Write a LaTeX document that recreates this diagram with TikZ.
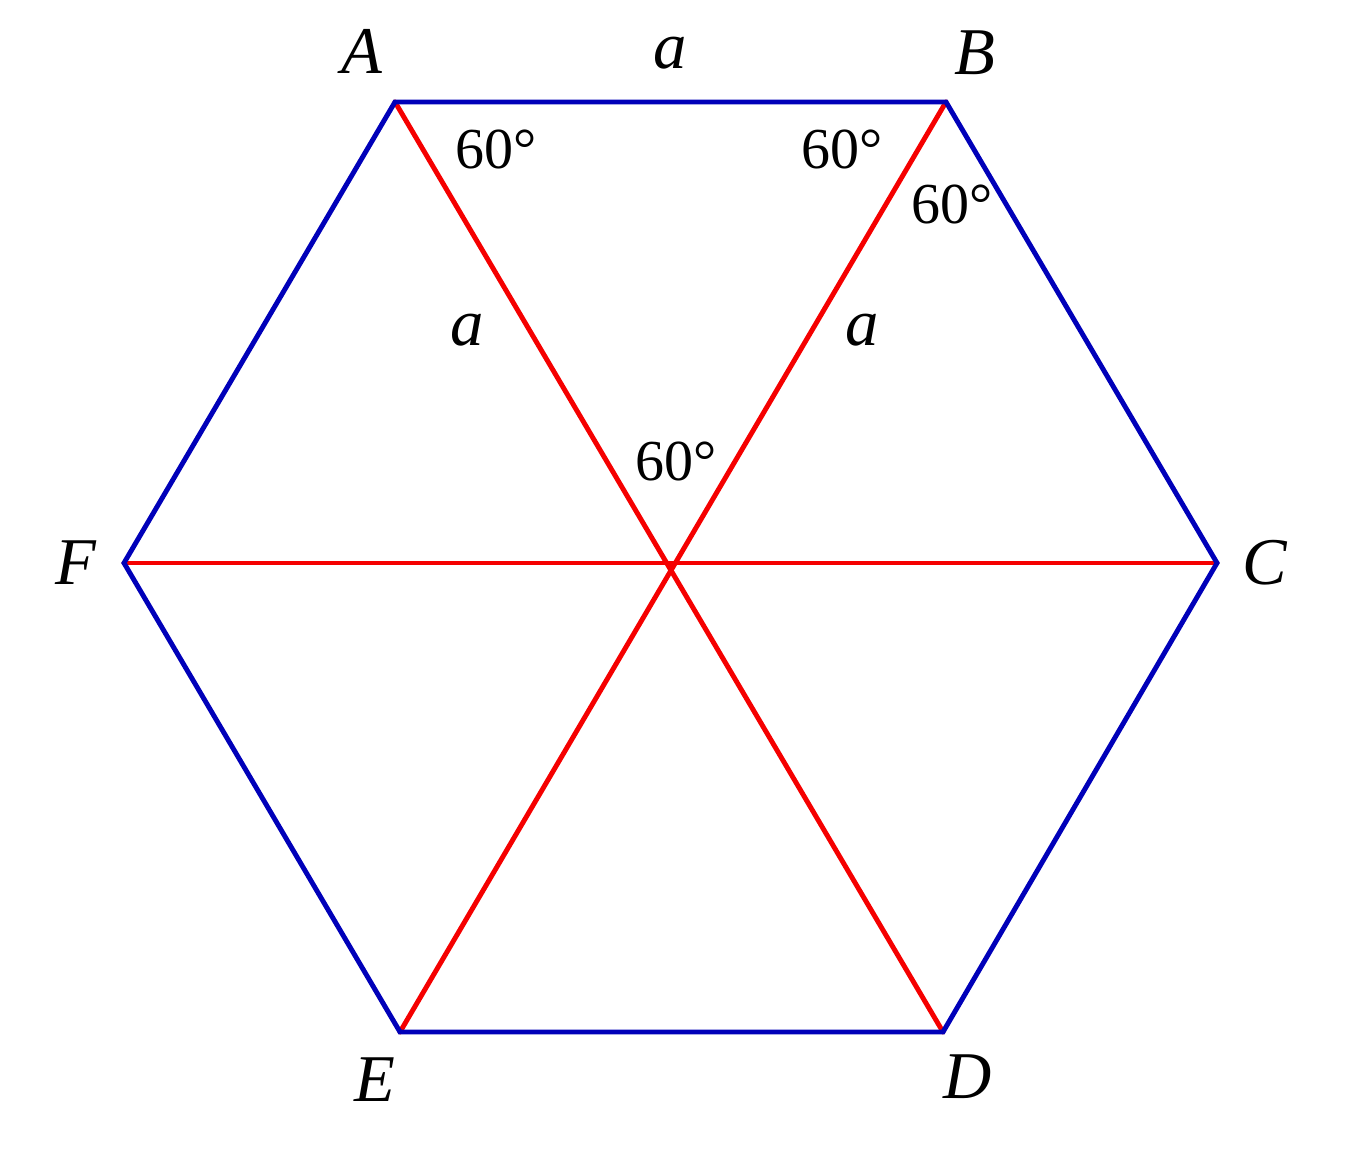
\documentclass[tikz,border=0pt]{standalone}
\usepackage{fontspec}
\setmainfont{Liberation Serif}
\usetikzlibrary{calc}

\definecolor{hexblue}{RGB}{0,0,185}
\definecolor{hexred}{RGB}{245,0,0}

\begin{document}
\begin{tikzpicture}[
		vertexlabel/.style = {font=\fontsize{19}{22}\selectfont\itshape},
		anglelabel/.style = {font=\fontsize{16.5}{19}\selectfont},
		sidelabel/.style = {font=\fontsize{19}{22}\selectfont\itshape},
		side/.style = {hexblue, line width=1.4pt, line cap=round},
		diag/.style = {hexred, line width=1.4pt, line cap=round}
	]

		\useasboundingbox (0,0) rectangle (13.6,11.56);

		% corners of the hexagon
		\coordinate (A) at (3.95, 10.54);
		\coordinate (B) at (9.46, 10.54);
		\coordinate (C) at (12.17, 5.93);
		\coordinate (D) at (9.43, 1.24);
		\coordinate (E) at (4.00, 1.24);
		\coordinate (F) at (1.24, 5.93);

		% draw the diagonals
		\draw[diag] (A) -- (D);
		\draw[diag] (B) -- (E);
		\draw[diag] (F) -- (C);

		% draw the sides
		\draw[side] (A) -- (B) -- (C) -- (D) -- (E) -- (F) -- cycle;

		% vertex names
		\node[vertexlabel] (lA) at (3.62, 11.05) {A};
		\node[vertexlabel] (lB) at (9.75, 11.03) {B};
		\node[vertexlabel] (lC) at (12.65, 5.93) {C};
		\node[vertexlabel] (lD) at (9.68, 0.79) {D};
		\node[vertexlabel] (lE) at (3.75, 0.76) {E};
		\node[vertexlabel] (lF) at (0.76, 5.93) {F};

		% side lengths
		\node[sidelabel] (aAB) at (6.70, 11.03) {a};
		\node[sidelabel] (aAO) at (4.67, 8.26) {a};
		\node[sidelabel] (aBO) at (8.62, 8.26) {a};

		% angles
		\node[anglelabel] (angA) at (4.96, 10.06) {60°};
		\node[anglelabel] (angB) at (8.42, 10.06) {60°};
		\node[anglelabel] (angBC) at (9.52, 9.51) {60°};
		\node[anglelabel] (angO) at (6.76, 6.94) {60°};

	\end{tikzpicture}
\end{document}
